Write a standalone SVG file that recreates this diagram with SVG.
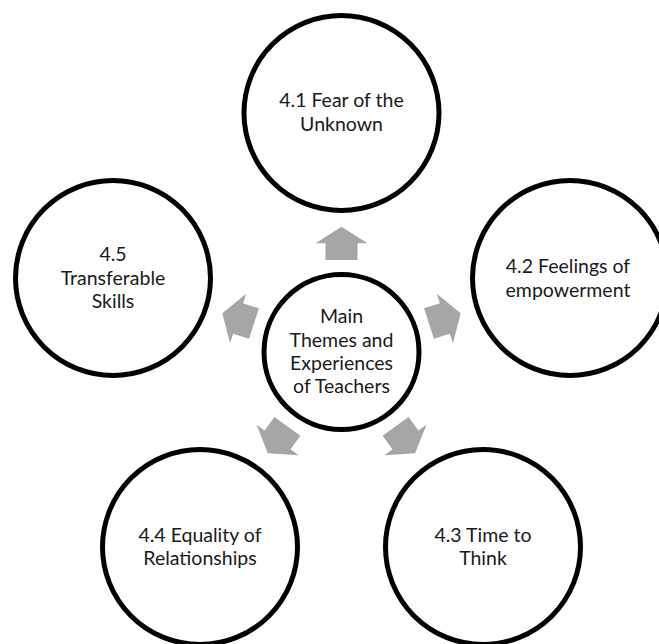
<svg xmlns="http://www.w3.org/2000/svg" xmlns:xlink="http://www.w3.org/1999/xlink" width="659" height="644" viewBox="0 0 659 644">
  <style>
    .node circle { fill: #ffffff; stroke: #000000; stroke-width: 5; }
    .node text { font-family: Lato, "Liberation Sans", sans-serif; font-size: 19.5px; fill: #1a1a1a; text-anchor: middle; }
    .arrow { fill: #a6a6a6; stroke: none; }
  </style>
  <defs>
    <polygon id="blockArrow" class="arrow" points="-16,-92 -16,-108.7 -26,-108.7 0,-125.3 26,-108.7 16,-108.7 16,-92"/>
  </defs>
  <rect width="659" height="644" fill="#ffffff"/>
  <g id="connectors">
    <use xlink:href="#blockArrow" transform="translate(341.5,352) rotate(0)"/>
    <use xlink:href="#blockArrow" transform="translate(341.5,352) rotate(72)"/>
    <use xlink:href="#blockArrow" transform="translate(341.5,352) rotate(144)"/>
    <use xlink:href="#blockArrow" transform="translate(341.5,352) rotate(216)"/>
    <use xlink:href="#blockArrow" transform="translate(341.5,352) rotate(288)"/>
  </g>
  <g id="center" class="node">
    <circle cx="341.5" cy="352" r="77.5"/>
    <text x="341.5" y="323.3">Main</text>
    <text x="341.5" y="346.5">Themes and</text>
    <text x="341.5" y="369.7">Experiences</text>
    <text x="341.5" y="392.5">of Teachers</text>
  </g>
  <g id="n41" class="node">
    <circle cx="341.5" cy="113" r="97.5"/>
    <text x="341.5" y="107.3">4.1 Fear of the</text>
    <text x="341.5" y="130.7">Unknown</text>
  </g>
  <g id="n42" class="node">
    <circle cx="570" cy="278" r="97.5"/>
    <text x="568" y="273.3">4.2 Feelings of</text>
    <text x="568" y="296.7">empowerment</text>
  </g>
  <g id="n43" class="node">
    <circle cx="483" cy="547" r="97.5"/>
    <text x="483" y="541.7">4.3 Time to</text>
    <text x="483" y="565">Think</text>
  </g>
  <g id="n44" class="node">
    <circle cx="200" cy="547" r="97.5"/>
    <text x="200" y="541.7">4.4 Equality of</text>
    <text x="200" y="565">Relationships</text>
  </g>
  <g id="n45" class="node">
    <circle cx="113" cy="278" r="97.5"/>
    <text x="113" y="260.7">4.5</text>
    <text x="113" y="284.5">Transferable</text>
    <text x="113" y="307.7">Skills</text>
  </g>
</svg>
